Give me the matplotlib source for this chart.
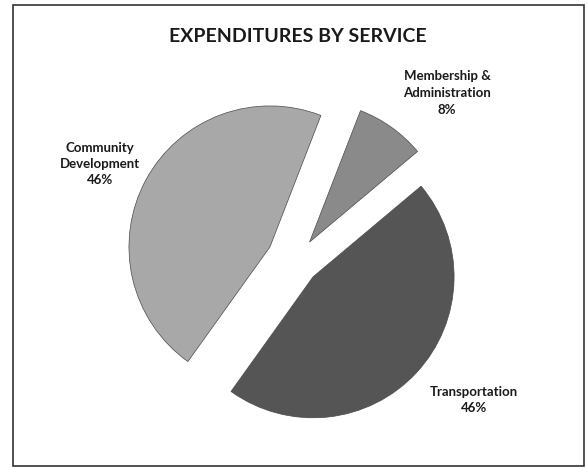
import matplotlib
matplotlib.use("Agg")
import matplotlib.pyplot as plt
from matplotlib.patches import Rectangle

# Data
categories = ["Membership &\nAdministration", "Community\nDevelopment", "Transportation"]
values = [8, 46, 46]
colors = ["#8a8a8a", "#a8a8a8", "#555555"]
explode = [0.165, 0.21, 0.165]   # fraction of radius
title = "EXPENDITURES BY SERVICE"

W, H = 587, 468
fig = plt.figure(figsize=(W / 100, H / 100), dpi=100)
ax = fig.add_axes([0, 0, 1, 1])

R = 141
center = (296, H - 261)
wedges, _ = ax.pie(values, colors=colors, explode=[e * R for e in explode],
                   startangle=40, counterclock=True, radius=R, center=center,
                   frame=True,
                   wedgeprops=dict(edgecolor="#4a4a4a", linewidth=0.5))
ax.set_xlim(0, W)
ax.set_ylim(0, H)
ax.set_aspect("equal")
ax.axis("off")

total = sum(values)
label_pos = [(447, H - 93), (100, H - 164), (474, H - 400)]
for cat, v, (lx, ly) in zip(categories, values, label_pos):
    ax.text(lx, ly, f"{cat}\n{round(100 * v / total)}%", ha="center", va="center",
            fontsize=9.5, fontweight="bold", family="Lato", color="#1a1a1a",
            linespacing=1.45)

ax.text(298, H - 37, title, ha="center", va="center", fontsize=14,
        fontweight="bold", family="Lato", color="#1a1a1a")

ax.add_patch(Rectangle((13, H - 466), 584 - 13, 466 - 5, fill=False,
                       edgecolor="#333333", linewidth=1.2))

fig.savefig("out.png", dpi=100)
